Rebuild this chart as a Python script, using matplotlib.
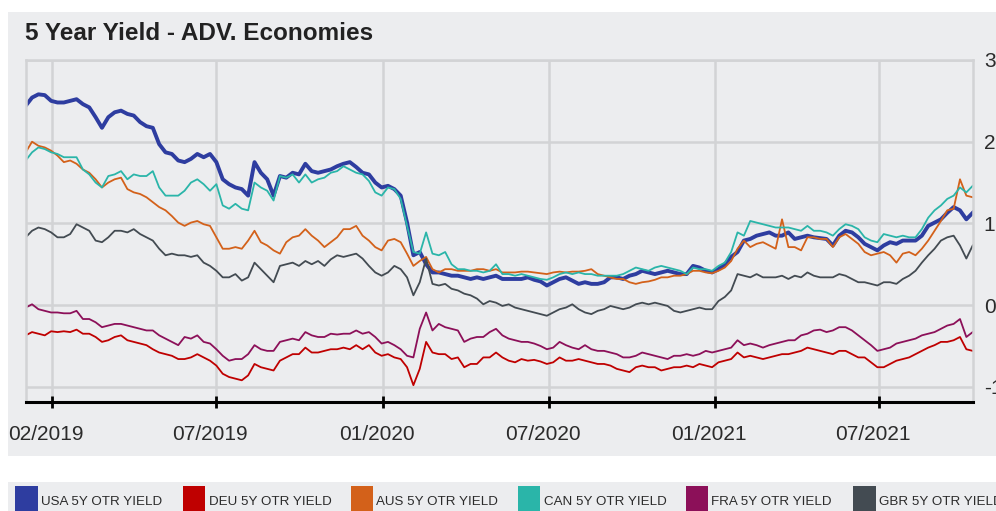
import matplotlib
matplotlib.use("Agg")
import matplotlib.pyplot as plt
import matplotlib.transforms as mtransforms
from matplotlib.patches import Rectangle
import pandas as pd

# weekly readings, Dec 2018 - Nov 2021
usa = [2.44, 2.54, 2.58, 2.57, 2.50, 2.48, 2.48, 2.50, 2.52, 2.46, 2.42, 2.30, 2.17, 2.30, 2.36, 2.38, 2.34, 2.32, 2.24, 2.19, 2.17, 1.97, 1.87, 1.85, 1.77, 1.75,
       1.79, 1.85, 1.81, 1.85, 1.75, 1.54, 1.48, 1.44, 1.42, 1.34, 1.75, 1.62, 1.54, 1.34, 1.58, 1.56, 1.62, 1.60, 1.73, 1.64, 1.62, 1.64, 1.66, 1.70, 1.73,
       1.75, 1.69, 1.62, 1.60, 1.50, 1.44, 1.46, 1.42, 1.34, 1.01, 0.61, 0.65, 0.50, 0.40, 0.40, 0.38, 0.36, 0.36, 0.34, 0.32, 0.34, 0.32, 0.34, 0.36, 0.32,
       0.32, 0.32, 0.32, 0.34, 0.31, 0.29, 0.24, 0.28, 0.32, 0.34, 0.30, 0.26, 0.28, 0.26, 0.26, 0.28, 0.34, 0.34, 0.32, 0.36, 0.38, 0.42, 0.40, 0.38, 0.40,
       0.42, 0.40, 0.38, 0.38, 0.48, 0.46, 0.42, 0.40, 0.44, 0.50, 0.59, 0.65, 0.79, 0.81, 0.85, 0.87, 0.89, 0.85, 0.85, 0.89, 0.81, 0.83, 0.85, 0.83, 0.82,
       0.81, 0.73, 0.85, 0.91, 0.89, 0.83, 0.75, 0.71, 0.67, 0.73, 0.77, 0.75, 0.79, 0.79, 0.79, 0.85, 0.97, 1.01, 1.05, 1.13, 1.20, 1.16, 1.05, 1.13]
deu = [-0.37, -0.33, -0.35, -0.37, -0.32, -0.33, -0.32, -0.33, -0.30, -0.35, -0.35, -0.39, -0.45, -0.43, -0.39, -0.37, -0.43, -0.45, -0.47, -0.49, -0.54, -0.58, -0.60, -0.62, -0.66, -0.66,
       -0.64, -0.60, -0.64, -0.68, -0.74, -0.84, -0.88, -0.90, -0.92, -0.86, -0.72, -0.76, -0.78, -0.80, -0.68, -0.64, -0.60, -0.60, -0.52, -0.58, -0.58, -0.56, -0.54, -0.54, -0.52,
       -0.54, -0.49, -0.54, -0.49, -0.58, -0.62, -0.60, -0.64, -0.66, -0.76, -0.98, -0.78, -0.45, -0.58, -0.60, -0.60, -0.66, -0.64, -0.76, -0.72, -0.72, -0.64, -0.64, -0.58, -0.64,
       -0.68, -0.70, -0.66, -0.68, -0.67, -0.69, -0.72, -0.70, -0.64, -0.68, -0.68, -0.66, -0.68, -0.70, -0.72, -0.72, -0.74, -0.78, -0.80, -0.82, -0.76, -0.74, -0.76, -0.76, -0.80,
       -0.78, -0.76, -0.76, -0.74, -0.76, -0.72, -0.74, -0.76, -0.70, -0.68, -0.66, -0.58, -0.64, -0.62, -0.64, -0.66, -0.64, -0.62, -0.60, -0.60, -0.58, -0.56, -0.52, -0.54, -0.56,
       -0.58, -0.60, -0.56, -0.56, -0.60, -0.64, -0.64, -0.70, -0.76, -0.76, -0.72, -0.68, -0.66, -0.64, -0.60, -0.56, -0.52, -0.49, -0.45, -0.45, -0.43, -0.39, -0.54, -0.56]
aus = [1.87, 2.00, 1.95, 1.93, 1.89, 1.83, 1.75, 1.77, 1.73, 1.66, 1.62, 1.54, 1.44, 1.50, 1.54, 1.56, 1.42, 1.38, 1.36, 1.32, 1.26, 1.20, 1.16, 1.09, 1.01, 0.97,
       1.01, 1.03, 0.99, 0.97, 0.83, 0.69, 0.69, 0.71, 0.69, 0.79, 0.91, 0.77, 0.73, 0.67, 0.63, 0.77, 0.83, 0.85, 0.93, 0.85, 0.79, 0.71, 0.77, 0.83, 0.93,
       0.93, 0.97, 0.85, 0.79, 0.71, 0.67, 0.79, 0.81, 0.77, 0.63, 0.48, 0.54, 0.59, 0.44, 0.40, 0.44, 0.44, 0.42, 0.42, 0.42, 0.44, 0.44, 0.42, 0.44, 0.40,
       0.40, 0.40, 0.41, 0.41, 0.40, 0.39, 0.38, 0.40, 0.41, 0.40, 0.41, 0.41, 0.42, 0.44, 0.38, 0.36, 0.34, 0.32, 0.32, 0.28, 0.26, 0.28, 0.29, 0.31, 0.34,
       0.34, 0.36, 0.36, 0.38, 0.42, 0.42, 0.40, 0.39, 0.42, 0.46, 0.54, 0.69, 0.79, 0.71, 0.75, 0.77, 0.73, 0.69, 1.05, 0.71, 0.71, 0.67, 0.83, 0.83, 0.81,
       0.81, 0.71, 0.83, 0.87, 0.81, 0.75, 0.65, 0.61, 0.63, 0.65, 0.61, 0.52, 0.63, 0.65, 0.61, 0.69, 0.79, 0.91, 1.03, 1.16, 1.18, 1.54, 1.34, 1.32]
can = [1.77, 1.87, 1.93, 1.91, 1.87, 1.85, 1.81, 1.81, 1.81, 1.66, 1.60, 1.50, 1.44, 1.58, 1.60, 1.64, 1.54, 1.60, 1.58, 1.58, 1.64, 1.44, 1.34, 1.34, 1.34, 1.40,
       1.50, 1.54, 1.48, 1.40, 1.48, 1.22, 1.18, 1.24, 1.18, 1.16, 1.50, 1.44, 1.40, 1.28, 1.58, 1.56, 1.60, 1.50, 1.60, 1.50, 1.54, 1.56, 1.62, 1.64, 1.70,
       1.66, 1.62, 1.60, 1.52, 1.38, 1.34, 1.44, 1.42, 1.30, 0.97, 0.65, 0.63, 0.89, 0.63, 0.61, 0.65, 0.50, 0.44, 0.44, 0.42, 0.42, 0.40, 0.42, 0.50, 0.38,
       0.38, 0.36, 0.38, 0.36, 0.34, 0.32, 0.31, 0.34, 0.38, 0.40, 0.38, 0.40, 0.38, 0.38, 0.36, 0.36, 0.36, 0.36, 0.38, 0.42, 0.46, 0.44, 0.42, 0.46, 0.48,
       0.46, 0.44, 0.42, 0.38, 0.46, 0.44, 0.44, 0.42, 0.48, 0.52, 0.65, 0.89, 0.85, 1.03, 1.01, 0.99, 0.97, 0.95, 0.95, 0.95, 0.93, 0.91, 0.97, 0.91, 0.91,
       0.89, 0.85, 0.93, 0.99, 0.97, 0.93, 0.83, 0.79, 0.77, 0.87, 0.85, 0.83, 0.85, 0.83, 0.83, 0.93, 1.07, 1.16, 1.22, 1.30, 1.34, 1.44, 1.38, 1.46]
fra = [-0.03, 0.01, -0.05, -0.07, -0.09, -0.09, -0.10, -0.10, -0.07, -0.17, -0.17, -0.21, -0.27, -0.25, -0.23, -0.23, -0.25, -0.27, -0.29, -0.31, -0.31, -0.37, -0.41, -0.45, -0.49, -0.39,
       -0.41, -0.37, -0.45, -0.47, -0.54, -0.62, -0.68, -0.66, -0.66, -0.60, -0.49, -0.54, -0.56, -0.56, -0.45, -0.43, -0.41, -0.43, -0.33, -0.37, -0.39, -0.39, -0.35, -0.36, -0.35,
       -0.35, -0.31, -0.35, -0.33, -0.39, -0.47, -0.45, -0.49, -0.54, -0.62, -0.64, -0.29, -0.09, -0.31, -0.23, -0.27, -0.29, -0.31, -0.45, -0.41, -0.39, -0.39, -0.33, -0.29, -0.37,
       -0.41, -0.43, -0.45, -0.45, -0.47, -0.50, -0.54, -0.52, -0.45, -0.49, -0.52, -0.54, -0.49, -0.54, -0.56, -0.56, -0.58, -0.60, -0.64, -0.64, -0.62, -0.58, -0.60, -0.62, -0.64,
       -0.66, -0.62, -0.62, -0.60, -0.62, -0.60, -0.56, -0.58, -0.56, -0.54, -0.52, -0.43, -0.49, -0.47, -0.49, -0.52, -0.49, -0.47, -0.45, -0.43, -0.43, -0.37, -0.35, -0.31, -0.30,
       -0.33, -0.31, -0.27, -0.27, -0.31, -0.37, -0.43, -0.49, -0.56, -0.54, -0.52, -0.47, -0.45, -0.43, -0.41, -0.37, -0.35, -0.33, -0.29, -0.25, -0.23, -0.17, -0.39, -0.33]
gbr = [0.83, 0.91, 0.95, 0.93, 0.89, 0.83, 0.83, 0.87, 0.99, 0.95, 0.91, 0.79, 0.77, 0.83, 0.91, 0.91, 0.89, 0.93, 0.87, 0.83, 0.79, 0.69, 0.61, 0.63, 0.61, 0.61,
       0.59, 0.61, 0.52, 0.48, 0.42, 0.34, 0.34, 0.38, 0.30, 0.34, 0.52, 0.44, 0.36, 0.28, 0.48, 0.50, 0.52, 0.48, 0.54, 0.50, 0.54, 0.48, 0.56, 0.61, 0.59,
       0.61, 0.63, 0.57, 0.48, 0.40, 0.36, 0.40, 0.48, 0.44, 0.34, 0.12, 0.28, 0.57, 0.26, 0.24, 0.26, 0.20, 0.18, 0.14, 0.12, 0.08, 0.01, 0.05, 0.03, -0.01,
       0.01, -0.03, -0.05, -0.07, -0.09, -0.11, -0.13, -0.09, -0.05, -0.03, 0.01, -0.05, -0.09, -0.11, -0.07, -0.05, -0.01, -0.03, -0.05, -0.03, 0.01, 0.03, 0.01, 0.03, 0.01,
       -0.01, -0.07, -0.09, -0.07, -0.05, -0.03, -0.05, -0.05, 0.05, 0.10, 0.18, 0.38, 0.36, 0.34, 0.38, 0.34, 0.34, 0.34, 0.36, 0.32, 0.36, 0.34, 0.40, 0.36, 0.34,
       0.34, 0.34, 0.38, 0.36, 0.32, 0.28, 0.28, 0.26, 0.24, 0.28, 0.28, 0.26, 0.32, 0.36, 0.42, 0.52, 0.61, 0.69, 0.79, 0.83, 0.85, 0.73, 0.57, 0.73]

names = ["USA 5Y OTR YIELD", "DEU 5Y OTR YIELD", "AUS 5Y OTR YIELD",
         "CAN 5Y OTR YIELD", "FRA 5Y OTR YIELD", "GBR 5Y OTR YIELD"]
colors = ["#2E3DA0", "#BF0000", "#D3611A", "#2AB5A9", "#8C1059", "#434B52"]
widths = [2.8, 1.3, 1.3, 1.3, 1.3, 1.3]

tick_dates = pd.to_datetime(["2019-01-26", "2019-07-26", "2020-01-25",
                             "2020-07-26", "2021-01-25", "2021-07-25"])
tick_labels = ["02/2019", "07/2019", "01/2020", "07/2020", "01/2021", "07/2021"]
y_ticks = [-1, 0, 1, 2, 3]

dates = pd.date_range("2018-12-28", periods=len(usa), freq="7D")

plt.rcParams['font.family'] = ['Liberation Sans', 'DejaVu Sans']

W, H = 996, 511
bg = "#ECEDEF"
grid = "#D2D3D5"
txt = "#2B2B2B"

fig = plt.figure(figsize=(W / 100, H / 100), dpi=100)
fig.patch.set_facecolor("white")
fig.patches.append(Rectangle((8 / W, 1 - 456 / H), (W - 8) / W, 444 / H,
                             transform=fig.transFigure, facecolor=bg,
                             edgecolor="none", zorder=-5))
fig.patches.append(Rectangle((8 / W, 0), (W - 8) / W, (H - 482) / H,
                             transform=fig.transFigure, facecolor=bg,
                             edgecolor="none", zorder=-5))

ax = fig.add_axes([25.7 / W, 1 - 401.7 / H, (972.7 - 25.7) / W, (401.7 - 60) / H])
ax.set_facecolor(bg)

for vals, c, lw in zip([usa, deu, aus, can, fra, gbr], colors, widths):
    ax.plot(dates, vals, color=c, lw=lw, solid_joinstyle="round")

ax.set_xlim(dates[0], dates[-1])
ax.set_ylim(-1.182, 3)
ax.set_xticks(tick_dates, tick_labels)
ax.set_yticks(y_ticks, [str(v) for v in y_ticks])
ax.yaxis.tick_right()
ax.grid(True, color=grid, lw=1.8)
ax.set_axisbelow(True)
for s in ["left", "right", "top"]:
    ax.spines[s].set_color(grid)
    ax.spines[s].set_linewidth(1.8)
ax.spines["bottom"].set_color("black")
ax.spines["bottom"].set_linewidth(2.2)
ax.tick_params(axis="y", length=0, pad=8, labelsize=15, labelcolor=txt)
ax.tick_params(axis="x", direction="inout", length=8, width=2, color="black",
               pad=13, labelsize=15, labelcolor=txt)
shift = mtransforms.ScaledTranslation(-6 / 100, 0, fig.dpi_scale_trans)
for lab in ax.get_xticklabels():
    lab.set_transform(lab.get_transform() + shift)

fig.text(25 / W, 1 - 34 / H, "5 Year Yield - ADV. Economies", fontsize=17.5,
         fontweight="bold", color="#222222", ha="left", va="center")

# legend strip
for k, (n, c) in enumerate(zip(names, colors)):
    x0 = 15.3 + k * 167.6
    fig.patches.append(Rectangle((x0 / W, 0), 22.4 / W, (H - 486) / H,
                                 transform=fig.transFigure, facecolor=c,
                                 edgecolor="none"))
    fig.text((x0 + 25.7) / W, 1 - 501.5 / H, n, fontsize=9.6,
             color=txt, ha="left", va="center")

fig.savefig("out.png", dpi=100)
